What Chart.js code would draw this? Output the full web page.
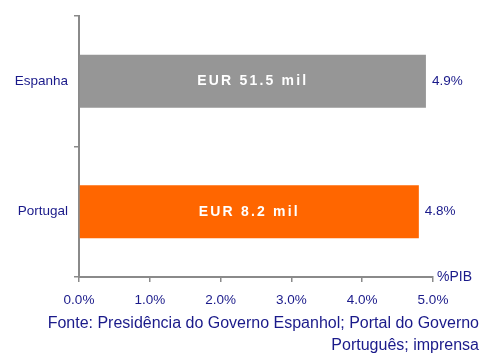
<!DOCTYPE html>
<html lang="pt">
<head>
    <meta charset="UTF-8">
    <title>Despesa %PIB</title>
    <script src="https://cdn.jsdelivr.net/npm/chart.js"></script>
    <style>
        html, body { margin: 0; padding: 0; background: #fff; }
        #wrap { width: 483px; height: 353px; position: relative; }
    </style>
</head>
<body>
    <div id="wrap"><canvas id="myChart" width="483" height="353"></canvas></div>
    <script>
        // dados
        const paises = ['Espanha', 'Portugal'];
        const pctPib = [4.9, 4.8];
        const montantes = ['EUR 51.5 mil', 'EUR 8.2 mil'];
        const cores = ['#969696', '#ff6600'];
        const ticksX = [0, 1, 2, 3, 4, 5];
        const fonte = ['Fonte: Presidência do Governo Espanhol; Portal do Governo', 'Português; imprensa'];

        const azul = '#1a1a8a';
        const eixo = '#8a8a8a';
        const familia = '"Liberation Sans", Arial, sans-serif';

        // rótulos dentro e ao lado das barras, %PIB e fonte
        const rotulos = {
            id: 'rotulos',
            afterDatasetsDraw(chart) {
                const ctx = chart.ctx;
                const meta = chart.getDatasetMeta(0);
                const area = chart.chartArea;
                ctx.save();
                ctx.textBaseline = 'middle';
                meta.data.forEach((bar, i) => {
                    ctx.fillStyle = '#fff';
                    ctx.font = 'bold 14px ' + familia;
                    ctx.letterSpacing = '2.2px';
                    ctx.textAlign = 'center';
                    ctx.fillText(montantes[i], (bar.base + bar.x) / 2, bar.y);
                    ctx.letterSpacing = '0px';
                    ctx.fillStyle = azul;
                    ctx.font = '13.5px ' + familia;
                    ctx.textAlign = 'left';
                    ctx.fillText(pctPib[i].toFixed(1) + '%', bar.x + 6, bar.y);
                });
                ctx.font = '14px ' + familia;
                ctx.textAlign = 'left';
                ctx.fillText('%PIB', area.right + 4, area.bottom);
                ctx.font = '16px ' + familia;
                ctx.textAlign = 'right';
                ctx.fillText(fonte[0], 479, 324);
                ctx.fillText(fonte[1], 479, 346);
                ctx.restore();
            }
        };

        const ctx = document.getElementById('myChart').getContext('2d');
        new Chart(ctx, {
            type: 'bar',
            data: {
                labels: paises,
                datasets: [{
                    data: pctPib,
                    backgroundColor: cores,
                    borderWidth: 0,
                    barPercentage: 0.405,
                    categoryPercentage: 1
                }]
            },
            options: {
                indexAxis: 'y',
                responsive: false,
                animation: false,
                layout: { padding: { left: 0, top: 16, right: 50, bottom: 0 } },
                plugins: { legend: { display: false }, tooltip: { enabled: false } },
                scales: {
                    x: {
                        min: 0,
                        max: 5,
                        afterFit(s) { s.height = 76; },
                        afterBuildTicks(s) { s.ticks = ticksX.map(v => ({ value: v })); },
                        border: { color: eixo, width: 2 },
                        grid: { drawOnChartArea: false, drawTicks: true, tickLength: 5, color: eixo, lineWidth: 1.5 },
                        ticks: {
                            color: azul,
                            padding: 10,
                            font: { size: 13.5, family: familia },
                            callback: v => v.toFixed(1) + '%'
                        }
                    },
                    y: {
                        afterFit(s) { s.width = 79; },
                        border: { color: eixo, width: 2 },
                        grid: { drawOnChartArea: false, drawTicks: true, tickLength: 5, color: eixo, lineWidth: 1.5 },
                        ticks: {
                            color: azul,
                            padding: 6,
                            font: { size: 13.5, family: familia }
                        }
                    }
                }
            },
            plugins: [rotulos]
        });
    </script>
</body>
</html>
